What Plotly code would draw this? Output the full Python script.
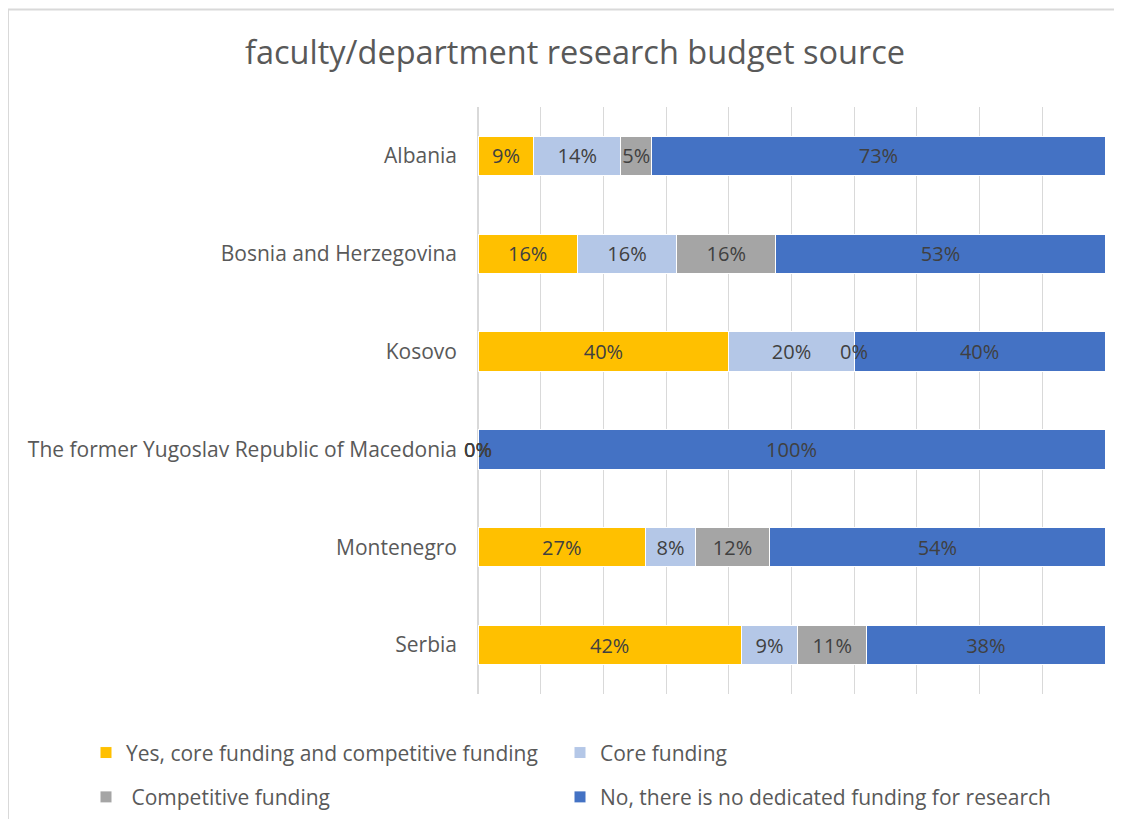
import plotly.graph_objects as go

# Countries (top to bottom) and share of each budget source, in %
countries = ["Albania", "Bosnia and Herzegovina", "Kosovo",
             "The former Yugoslav Republic of Macedonia", "Montenegro", "Serbia"]
yes_core_comp = [9, 16, 40, 0, 27, 42]
core_only = [14, 16, 20, 0, 8, 9]
competitive = [5, 16, 0, 0, 12, 11]
no_funding = [73, 53, 40, 100, 54, 38]

series = [
    ("Yes, core funding and competitive funding", yes_core_comp, "#FFC000", "legend"),
    ("Core funding", core_only, "#B4C7E7", "legend2"),
    ("\u00a0Competitive funding", competitive, "#A5A5A5", "legend3"),
    ("No, there is no dedicated funding for research", no_funding, "#4472C4", "legend4"),
]

FONT = "Open Sans"
# the page adds an 8px body margin, so the figure is laid out 8px smaller
OFF = 8
W, H = 1122 - OFF, 830 - OFF
L, R, T, B = 478 - OFF, 17, 107 - OFF, 127
PW, PH = W - L - R, H - T - B


def px_x(p):
    return (p - OFF - L) / PW


def px_y(p):
    return (H - B - (p - OFF)) / PH


fig = go.Figure()

for name, vals, color, leg in series:
    fig.add_trace(go.Bar(
        y=countries, x=vals, name=name, orientation="h",
        marker=dict(color=color, line=dict(color="white", width=1)),
        text=[f"{v}%" for v in vals], textposition="inside",
        insidetextanchor="middle", textangle=0, constraintext="none",
        textfont=dict(family=FONT, size=20, color="#404040"),
        legend=leg, showlegend=True, hoverinfo="x+y",
    ))

# zero-width segments still get a label in the original, add them as annotations
totals = [sum(s[1][i] for s in series) for i in range(len(countries))]
for i, c in enumerate(countries):
    cum = 0
    for name, vals, color, leg in series:
        if vals[i] == 0:
            fig.add_annotation(x=cum * 100 / totals[i], y=c, text="0%", showarrow=False,
                               font=dict(family=FONT, size=20, color="#404040"))
        cum += vals[i]

legend_font = dict(family=FONT, size=21, color="#595959")


def legend_at(x, y):
    return dict(orientation="v", x=px_x(x), xanchor="left", y=px_y(y), yanchor="top",
                font=legend_font, bgcolor="rgba(0,0,0,0)")


fig.update_layout(
    width=W, height=H, showlegend=True,
    barmode="stack", barnorm="percent", bargap=0.597,
    paper_bgcolor="white", plot_bgcolor="white",
    margin=dict(l=L, r=R, t=T, b=B),
    title=dict(text="faculty/department research budget source", x=(575 - OFF) / W,
               xanchor="center", y=1 - (53 - OFF) / H, yanchor="middle",
               font=dict(family=FONT, size=32.5, color="#595959")),
    xaxis=dict(range=[0, 100], dtick=10, showticklabels=False, showgrid=True,
               gridcolor="#D9D9D9", gridwidth=1, zeroline=True, zerolinecolor="#D9D9D9",
               showline=False, fixedrange=True),
    yaxis=dict(autorange="reversed", showgrid=False, showline=False, ticks="",
               ticklabelstandoff=20,
               tickfont=dict(family=FONT, size=21, color="#595959")),
    legend=legend_at(86, 742),
    legend2=legend_at(560, 742),
    legend3=legend_at(86, 787),
    legend4=legend_at(560, 787),
    shapes=[
        dict(type="line", xref="paper", yref="paper", x0=px_x(8), x1=px_x(1122),
             y0=px_y(8), y1=px_y(8), line=dict(color="#D9D9D9", width=2)),
        dict(type="line", xref="paper", yref="paper", x0=px_x(8), x1=px_x(8),
             y0=px_y(8), y1=px_y(830), line=dict(color="#D9D9D9", width=2)),
    ],
)

fig.write_html("out.html")
